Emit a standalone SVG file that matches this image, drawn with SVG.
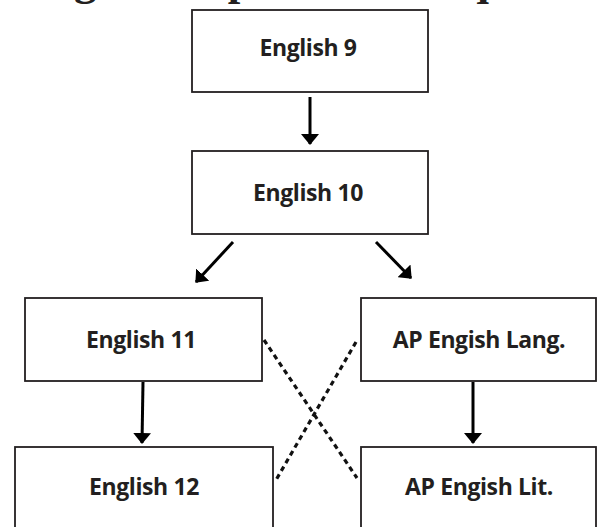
<svg xmlns="http://www.w3.org/2000/svg" width="597" height="527" viewBox="0 0 597 527">
<style>
.box{fill:#fff;stroke:#231f20;stroke-width:1.8}
.lbl{font-family:"Open Sans","Noto Sans",sans-serif;font-weight:700;font-size:23px;letter-spacing:-0.4px;fill:#231f20;text-anchor:middle}
.arr{stroke:#000;stroke-width:3;fill:none}
.dash{stroke:#111;stroke-width:3.2;fill:none;stroke-dasharray:5 4}
.title{font-family:"Liberation Serif","Times New Roman",serif;font-weight:bold;font-size:45px;fill:#231f20}
</style>
<defs>
<marker id="ah" viewBox="0 0 11 18" refX="10" refY="9" markerWidth="11" markerHeight="18" markerUnits="userSpaceOnUse" orient="auto">
<path d="M0,0 L11,9 L0,18 Z" fill="#000"/>
</marker>
</defs>
<rect width="597" height="527" fill="#fff"/>
<text class="title" x="19" y="-5.5">English Department Sequence</text>
<g id="english9"><rect class="box" x="192" y="10" width="236" height="82"/><text class="lbl" x="308" y="56">English 9</text></g>
<g id="english10"><rect class="box" x="192" y="151" width="236" height="83"/><text class="lbl" x="308" y="201">English 10</text></g>
<g id="english11"><rect class="box" x="25" y="298" width="237" height="83"/><text class="lbl" x="141" y="348">English 11</text></g>
<g id="aplang"><rect class="box" x="361" y="298" width="235" height="83"/><text class="lbl" x="479" y="348">AP Engish Lang.</text></g>
<g id="english12"><rect class="box" x="15" y="447" width="258" height="90"/><text class="lbl" x="144" y="495">English 12</text></g>
<g id="aplit"><rect class="box" x="361" y="447" width="235" height="90"/><text class="lbl" x="479" y="495">AP Engish Lit.</text></g>
<g id="connectors">
<line class="arr" x1="310" y1="97" x2="310" y2="144" marker-end="url(#ah)"/>
<line class="arr" x1="233" y1="242" x2="196" y2="282" marker-end="url(#ah)"/>
<line class="arr" x1="376" y1="242" x2="411" y2="278" marker-end="url(#ah)"/>
<line class="arr" x1="143" y1="382" x2="142" y2="443" marker-end="url(#ah)"/>
<line class="arr" x1="473" y1="382" x2="473" y2="443" marker-end="url(#ah)"/>
<line class="dash" x1="264" y1="340" x2="357" y2="478"/>
<line class="dash" x1="356" y1="342" x2="276" y2="480"/>
</g>
</svg>
